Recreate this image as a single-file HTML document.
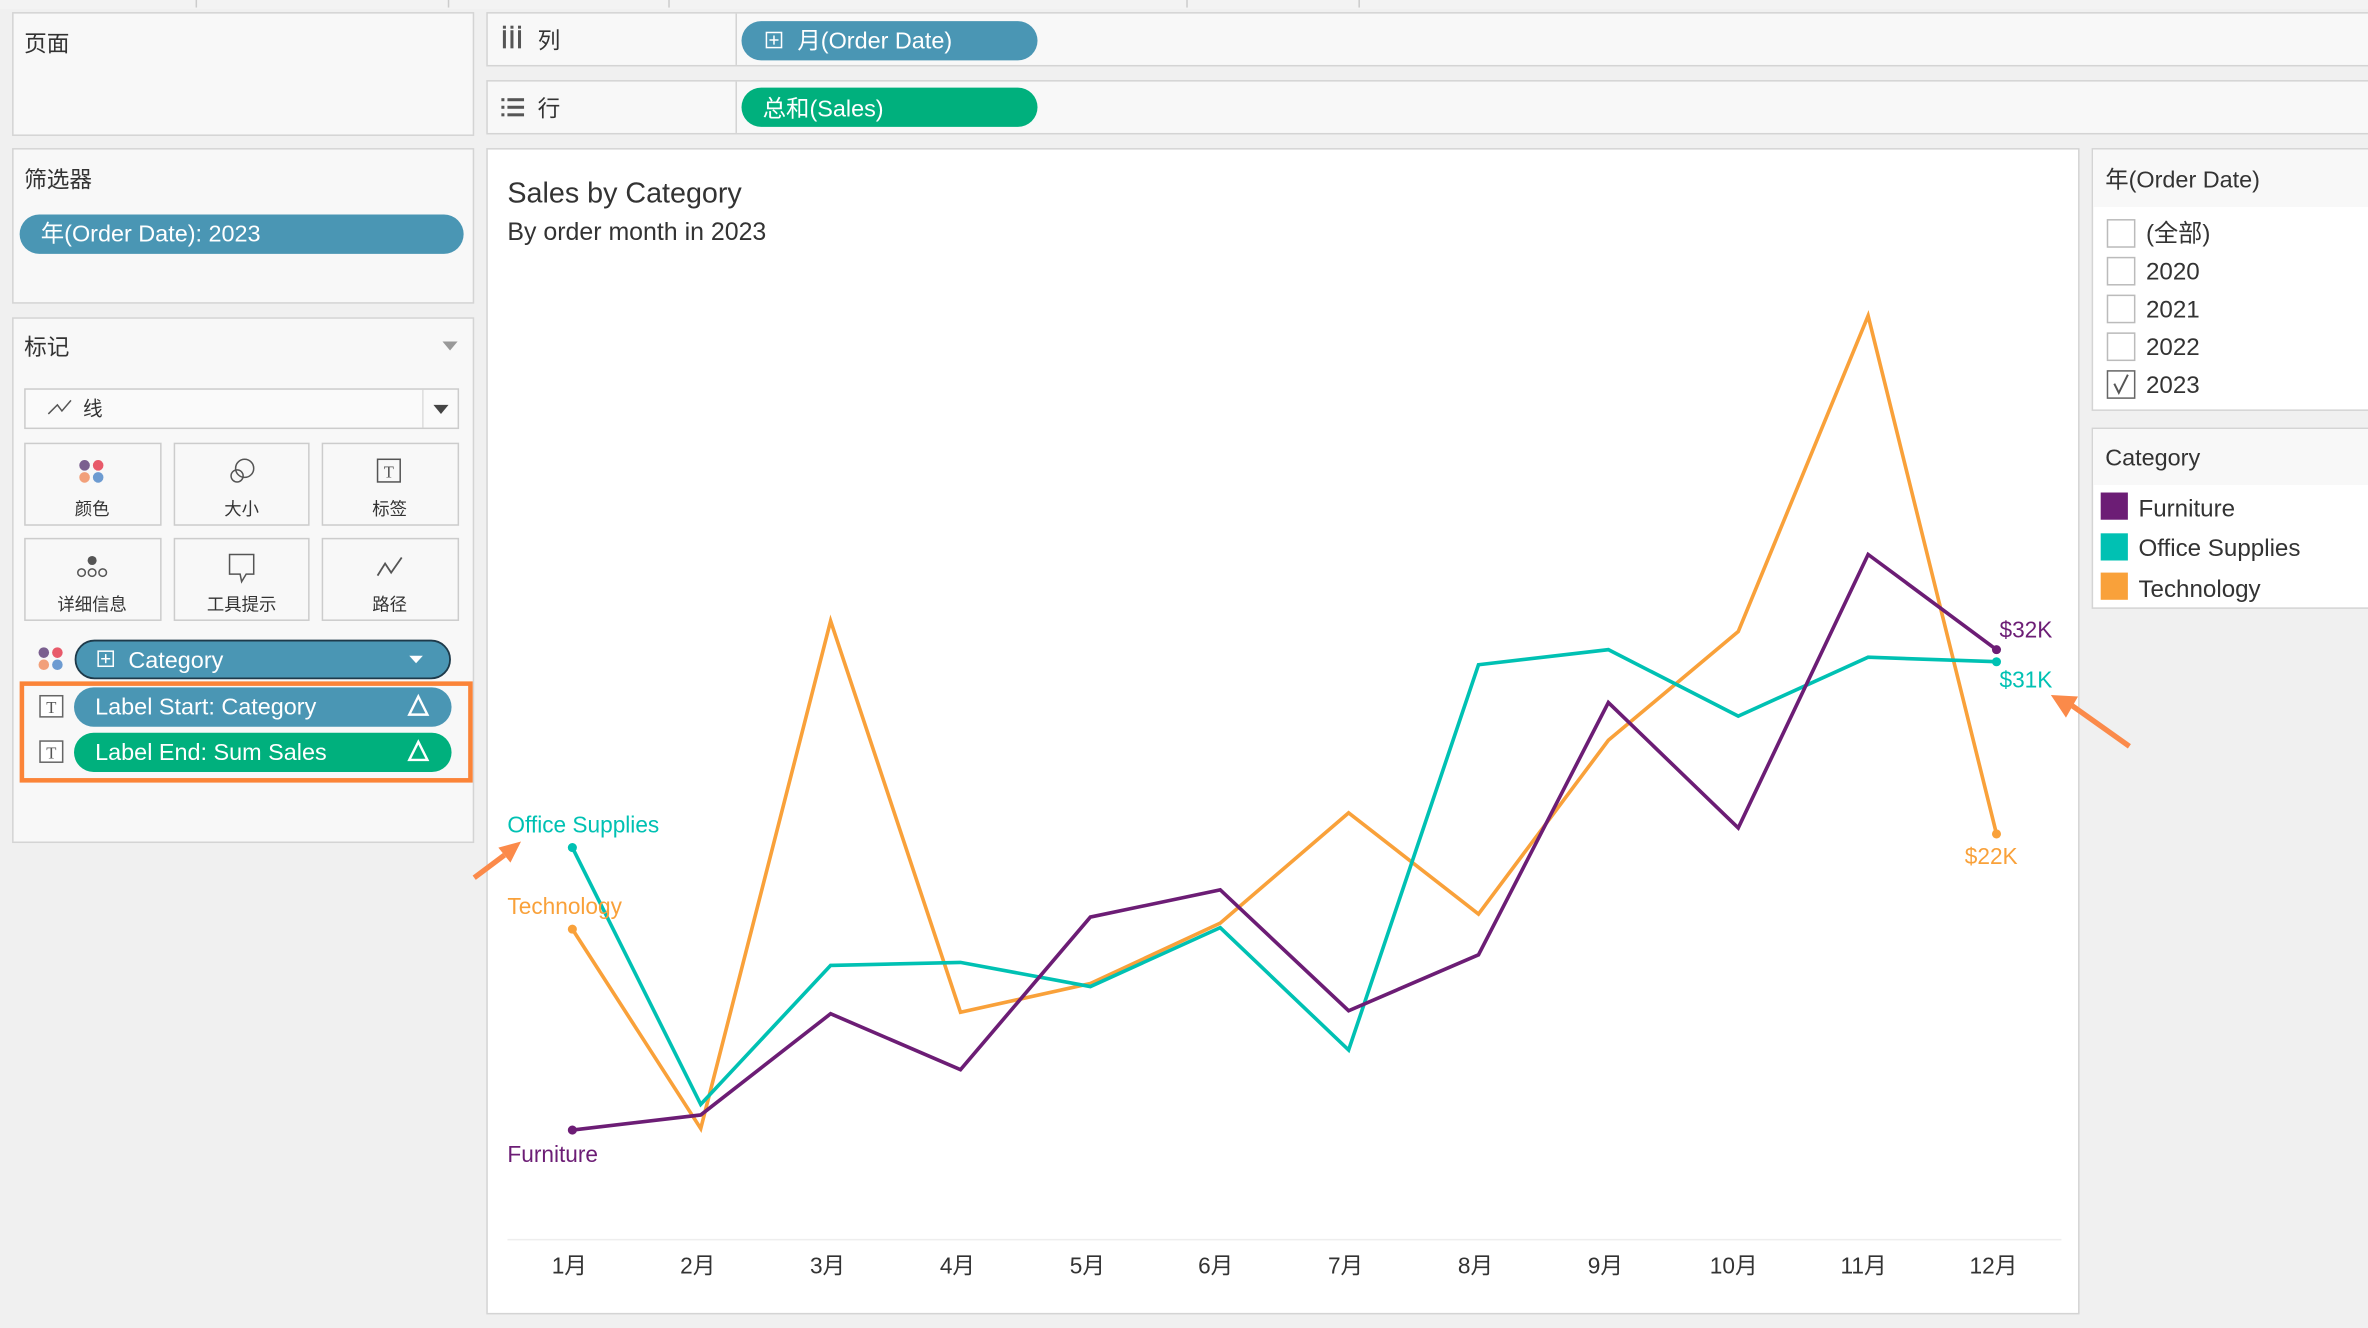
<!DOCTYPE html>
<html><head><meta charset="utf-8"><style>
html,body{margin:0;padding:0;background:#f0f0f0;}
svg{display:block;font-family:"Liberation Sans","Noto Sans CJK SC",sans-serif;}
</style></head><body>
<svg width="2368" height="1328" viewBox="0 0 1568 879" preserveAspectRatio="none" xmlns="http://www.w3.org/2000/svg">
<rect width="1568" height="879" fill="#f0f0f0"/>
<!-- top strip -->
<rect x="0" y="0" width="1568" height="6" fill="#f3f3f3"/>
<line x1="130" y1="0" x2="130" y2="5" stroke="#ccc"/><line x1="297" y1="0" x2="297" y2="5" stroke="#ccc"/>
<line x1="443" y1="0" x2="443" y2="5" stroke="#ccc"/><line x1="786" y1="0" x2="786" y2="5" stroke="#ccc"/><line x1="900" y1="0" x2="900" y2="5" stroke="#ccc"/>
<!-- left panels -->
<rect x="8.5" y="8.5" width="305" height="81" fill="#f8f8f8" stroke="#d4d4d4"/>
<text x="16" y="34" font-size="15" fill="#333">页面</text>
<rect x="8.5" y="98.5" width="305" height="102" fill="#f8f8f8" stroke="#d4d4d4"/>
<text x="16" y="124" font-size="15" fill="#333">筛选器</text>
<rect x="13" y="142" width="294" height="26" rx="13" fill="#4a96b4"/>
<text x="27" y="160" font-size="15.5" fill="#fff">年(Order Date): 2023</text>
<rect x="8.5" y="210.5" width="305" height="347" fill="#f8f8f8" stroke="#d4d4d4"/>
<text x="16" y="235" font-size="15" fill="#333">标记</text>
<path d="M293 226 L303 226 L298 232 Z" fill="#999"/>
<rect x="16.5" y="257.5" width="287" height="26" fill="#fafafa" stroke="#ccc"/>
<line x1="280" y1="258" x2="280" y2="283" stroke="#ddd"/>
<path d="M287 268 L297 268 L292 274 Z" fill="#444"/>
<path d="M32 274 L38 268 L41 272 L47 265" fill="none" stroke="#555" stroke-width="1"/>
<text x="55" y="275" font-size="13" fill="#333">线</text>
<g fill="#f8f8f8" stroke="#ccc">
<rect x="16.5" y="293.5" width="90" height="54"/><rect x="115.5" y="293.5" width="89" height="54"/><rect x="213.5" y="293.5" width="90" height="54"/>
<rect x="16.5" y="356.5" width="90" height="54"/><rect x="115.5" y="356.5" width="89" height="54"/><rect x="213.5" y="356.5" width="90" height="54"/>
</g>
<circle cx="56" cy="308" r="3.5" fill="#7a5f8f"/><circle cx="65" cy="308" r="3.5" fill="#e85a6a"/>
<circle cx="56" cy="316" r="3.5" fill="#f2a07a"/><circle cx="65" cy="316" r="3.5" fill="#6d9bd1"/>
<circle cx="162" cy="310" r="6" fill="none" stroke="#555"/><circle cx="157" cy="315" r="4" fill="none" stroke="#555"/>
<rect x="250" y="304" width="15" height="15" fill="none" stroke="#555"/><text x="257.5" y="316" font-size="11" fill="#555" text-anchor="middle" font-family="Liberation Serif">T</text>
<circle cx="61" cy="371" r="3" fill="#555"/><g fill="none" stroke="#555"><circle cx="54" cy="379" r="2.5"/><circle cx="61" cy="379" r="2.5"/><circle cx="68" cy="379" r="2.5"/></g>
<path d="M152 367 L168 367 L168 380 L163 380 L160 385 L159 380 L152 380 Z" fill="none" stroke="#555"/>
<path d="M250 381 L255 373 L259 379 L266 369" fill="none" stroke="#555" stroke-width="1.2"/>
<g font-size="11.5" fill="#333" text-anchor="middle">
<text x="61" y="341">颜色</text><text x="160" y="341">大小</text><text x="258" y="341">标签</text>
<text x="61" y="404">详细信息</text><text x="160" y="404">工具提示</text><text x="258" y="404">路径</text>
</g>
<circle cx="29" cy="432" r="3.5" fill="#7a5f8f"/><circle cx="38" cy="432" r="3.5" fill="#e85a6a"/>
<circle cx="29" cy="440" r="3.5" fill="#f2a07a"/><circle cx="38" cy="440" r="3.5" fill="#6d9bd1"/>
<rect x="50" y="424" width="248" height="25" rx="12.5" fill="#4a96b4" stroke="#1e3a4a" stroke-width="1.2"/>
<rect x="65" y="431" width="10" height="10" fill="none" stroke="#fff"/><path d="M70 433 V439 M67 436 H73" stroke="#fff"/>
<text x="85" y="442" font-size="15.5" fill="#fff">Category</text>
<path d="M271 434 L280 434 L275.5 439 Z" fill="#fff"/>
<rect x="14.5" y="452.5" width="297" height="64" fill="none" stroke="#fb8438" stroke-width="3"/>
<rect x="26.5" y="460.5" width="15" height="14" fill="#fff" stroke="#666"/><text x="34" y="472" font-size="11" fill="#555" text-anchor="middle" font-family="Liberation Serif">T</text>
<rect x="26.5" y="490.5" width="15" height="14" fill="#fff" stroke="#666"/><text x="34" y="502" font-size="11" fill="#555" text-anchor="middle" font-family="Liberation Serif">T</text>
<rect x="49" y="455" width="250" height="26" rx="13" fill="#4a96b4"/>
<text x="63" y="473" font-size="15.5" fill="#fff">Label Start: Category</text>
<path d="M277 461 L283 473 L271 473 Z" fill="none" stroke="#fff" stroke-width="1.6"/>
<rect x="49" y="485" width="250" height="26" rx="13" fill="#00b07d"/>
<text x="63" y="503" font-size="15.5" fill="#fff">Label End: Sum Sales</text>
<path d="M277 491 L283 503 L271 503 Z" fill="none" stroke="#fff" stroke-width="1.6"/>
<!-- shelves -->
<rect x="322.5" y="8.5" width="1250" height="35" fill="#f8f8f8" stroke="#d4d4d4"/>
<line x1="487.5" y1="9" x2="487.5" y2="43" stroke="#d4d4d4"/>
<rect x="322.5" y="53.5" width="1250" height="35" fill="#f8f8f8" stroke="#d4d4d4"/>
<line x1="487.5" y1="54" x2="487.5" y2="88" stroke="#d4d4d4"/>
<g fill="#555"><rect x="333" y="20" width="2" height="12"/><rect x="338" y="20" width="2" height="12"/><rect x="343" y="20" width="2" height="12"/>
<rect x="333" y="17" width="2" height="2"/><rect x="338" y="17" width="2" height="2"/><rect x="343" y="17" width="2" height="2"/>
<rect x="332" y="65" width="2" height="2"/><rect x="336" y="65" width="11" height="2"/><rect x="332" y="70" width="2" height="2"/><rect x="336" y="70" width="11" height="2"/><rect x="332" y="75" width="2" height="2"/><rect x="336" y="75" width="11" height="2"/></g>
<text x="356" y="32" font-size="15" fill="#333">列</text>
<text x="356" y="77" font-size="15" fill="#333">行</text>
<rect x="491" y="14" width="196" height="26" rx="13" fill="#4a96b4"/>
<rect x="507.5" y="21.5" width="10" height="10" fill="none" stroke="#fff"/><path d="M512.5 23.5 V29.5 M509.5 26.5 H515.5" stroke="#fff"/>
<text x="528" y="32" font-size="15.5" fill="#fff">月(Order Date)</text>
<rect x="491" y="58" width="196" height="26" rx="13" fill="#00b07d"/>
<text x="505" y="77" font-size="15.5" fill="#fff">总和(Sales)</text>
<!-- chart panel -->
<rect x="322.5" y="98.5" width="1054" height="771" fill="#fff" stroke="#d4d4d4"/>
<text x="336" y="134" font-size="19" fill="#333">Sales by Category</text>
<text x="336" y="159" font-size="16.5" fill="#333">By order month in 2023</text>
<line x1="336" y1="820.5" x2="1365" y2="820.5" stroke="#eee"/>
<g font-size="15" fill="#333" text-anchor="middle">
<text x="377" y="843">1月</text><text x="462" y="843">2月</text><text x="548" y="843">3月</text><text x="634" y="843">4月</text>
<text x="720" y="843">5月</text><text x="805" y="843">6月</text><text x="891" y="843">7月</text><text x="977" y="843">8月</text>
<text x="1063" y="843">9月</text><text x="1148" y="843">10月</text><text x="1234" y="843">11月</text><text x="1320" y="843">12月</text>
</g>
<g fill="none" stroke-width="2.4" stroke-linejoin="miter">
<polyline stroke="#f9a13a" points="379,615 464,747 550,411 636,670 722,651 808,611 893,538 979,605 1065,490 1151,418 1237,209 1322,552"/>
<polyline stroke="#00c1b3" points="379,561 464,731 550,639 636,637 722,653 808,614 893,695 979,440 1065,430 1151,474 1237,435 1322,438"/>
<polyline stroke="#6c1d75" points="379,748 464,738 550,671 636,708 722,607 808,589 893,669 979,632 1065,465 1151,548 1237,367 1322,430"/>
</g>
<circle cx="379" cy="615" r="3" fill="#f9a13a"/><circle cx="1322" cy="552" r="3" fill="#f9a13a"/>
<circle cx="379" cy="561" r="3" fill="#00c1b3"/><circle cx="1322" cy="438" r="3" fill="#00c1b3"/>
<circle cx="379" cy="748" r="3" fill="#6c1d75"/><circle cx="1322" cy="430" r="3" fill="#6c1d75"/>
<g font-size="15">
<text x="336" y="551" fill="#00c1b3">Office Supplies</text>
<text x="336" y="605" fill="#f9a13a">Technology</text>
<text x="336" y="769" fill="#6c1d75">Furniture</text>
<text x="1324" y="422" fill="#6c1d75">$32K</text>
<text x="1324" y="455" fill="#00c1b3">$31K</text>
<text x="1301" y="572" fill="#f9a13a">$22K</text>
</g>
<!-- arrows -->
<line x1="314" y1="581" x2="334" y2="566" stroke="#fb8a4a" stroke-width="3.5"/>
<path d="M345 557 L330 561 L338 571 Z" fill="#fb8a4a"/>
<line x1="1410" y1="494" x2="1372" y2="467" stroke="#fb8a4a" stroke-width="3.5"/>
<path d="M1358 460 L1376 461 L1368 475 Z" fill="#fb8a4a"/>
<!-- right legends -->
<rect x="1385.5" y="98.5" width="190" height="173" fill="#fff" stroke="#d4d4d4"/>
<rect x="1386" y="99" width="190" height="38" fill="#f8f8f8"/>
<text x="1394" y="124" font-size="15.5" fill="#333">年(Order Date)</text>
<g fill="#fff" stroke="#bbb"><rect x="1395.5" y="145.5" width="18" height="18"/><rect x="1395.5" y="170.5" width="18" height="18"/><rect x="1395.5" y="195.5" width="18" height="18"/><rect x="1395.5" y="220.5" width="18" height="18"/><rect x="1395.5" y="245.5" width="18" height="18" stroke="#666"/></g>
<path d="M1400 254 L1403 260 L1409 248" fill="none" stroke="#555" stroke-width="1.3"/>
<g font-size="16" fill="#333"><text x="1421" y="160">(全部)</text><text x="1421" y="185">2020</text><text x="1421" y="210">2021</text><text x="1421" y="235">2022</text><text x="1421" y="260">2023</text></g>
<rect x="1385.5" y="283.5" width="190" height="119" fill="#fff" stroke="#d4d4d4"/>
<rect x="1386" y="284" width="190" height="37" fill="#f8f8f8"/>
<text x="1394" y="308" font-size="15.5" fill="#333">Category</text>
<rect x="1391" y="326" width="18" height="18" fill="#6c1d75"/>
<rect x="1391" y="353" width="18" height="18" fill="#00c1b3"/>
<rect x="1391" y="379" width="18" height="18" fill="#f9a13a"/>
<g font-size="16" fill="#333"><text x="1416" y="342">Furniture</text><text x="1416" y="368">Office Supplies</text><text x="1416" y="395">Technology</text></g>
</svg>
</body></html>
